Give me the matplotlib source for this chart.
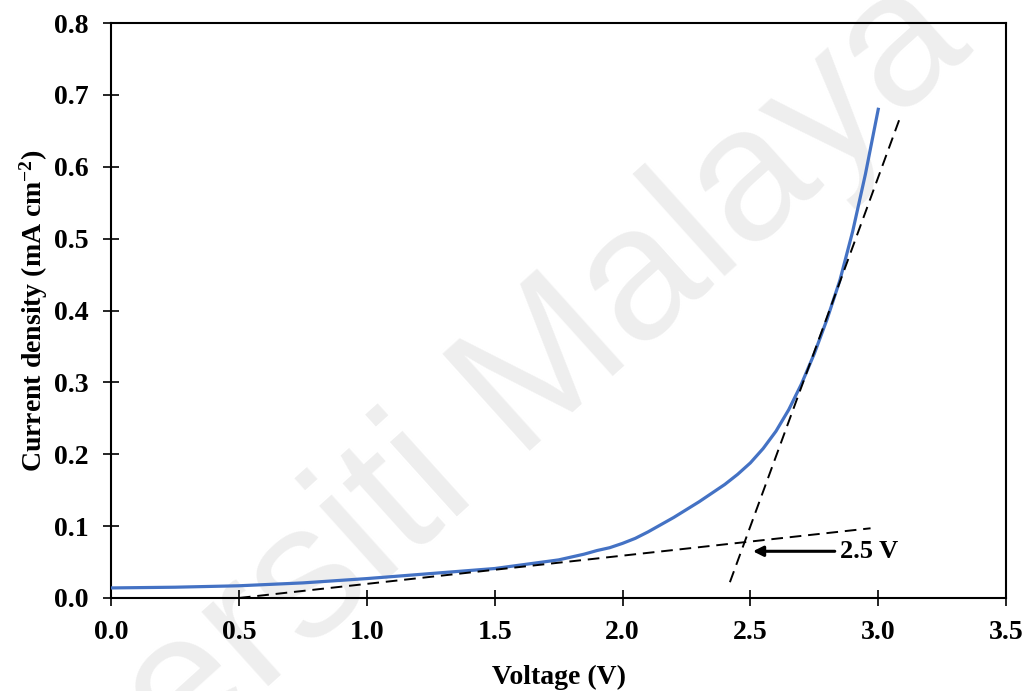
import numpy as np
import matplotlib
matplotlib.use("Agg")
import matplotlib.pyplot as plt

plt.rcParams['font.family'] = ['Liberation Serif', 'DejaVu Serif']
plt.rcParams['font.weight'] = 'bold'
plt.rcParams['mathtext.fontset'] = 'custom'
plt.rcParams['mathtext.rm'] = 'Liberation Serif:bold'
plt.rcParams['mathtext.bf'] = 'Liberation Serif:bold'
plt.rcParams['mathtext.default'] = 'rm'

# measured I-V curve
voltage = [0.0, 0.25, 0.5, 0.75, 1.0, 1.25, 1.5, 1.75, 1.85, 1.9, 1.95,
           2.0, 2.05, 2.1, 2.15, 2.2, 2.25, 2.3, 2.35, 2.4, 2.45, 2.5, 2.55,
           2.6, 2.65, 2.7, 2.75, 2.8, 2.85, 2.9, 2.95, 3.0]
current = [0.014, 0.015, 0.017, 0.021, 0.027, 0.034, 0.041, 0.053, 0.061,
           0.066, 0.070, 0.076, 0.083, 0.092, 0.102, 0.112, 0.123, 0.134,
           0.146, 0.158, 0.172, 0.188, 0.208, 0.232, 0.262, 0.298, 0.340,
           0.388, 0.442, 0.510, 0.590, 0.680]

# tangent lines used to find the onset voltage
low_fit_v = [0.5, 2.97]
low_fit_j = [0.0, 0.097]
high_fit_v = [2.42, 3.09]
high_fit_j = [0.022, 0.673]

onset_label = "2.5 V"
xticks = [0.0, 0.5, 1.0, 1.5, 2.0, 2.5, 3.0, 3.5]
yticks = [0.0, 0.1, 0.2, 0.3, 0.4, 0.5, 0.6, 0.7, 0.8]

fig = plt.figure(figsize=(10.30, 6.91), dpi=100)
ax = fig.add_axes([0.1078, 0.1346, 0.869, 0.832])
ax.set_zorder(1)
ax.set_facecolor('none')

# faint repository watermark behind everything
fig.text(0.424, 0.226, "Universiti Malaya", family='Liberation Sans',
         fontweight='normal', fontsize=137, color='#eeeeee', rotation=42,
         ha='center', va='baseline', rotation_mode='anchor', zorder=-1)

ax.plot(voltage, current, color='#4472C4', lw=2.3, zorder=3)
ax.plot(low_fit_v, low_fit_j, color='black', lw=1.4, dashes=(6, 3.5), zorder=4)
ax.plot(high_fit_v, high_fit_j, color='black', lw=1.4, dashes=(6, 3.5), zorder=4)

ax.annotate("", xy=(2.51, 0.065), xytext=(2.83, 0.065),
            arrowprops=dict(arrowstyle='-|>,head_length=0.6,head_width=0.3',
                            color='black', lw=2.2, shrinkA=0, shrinkB=0))
ax.text(2.85, 0.065, onset_label, fontsize=19, fontweight='bold',
        va='center', ha='left')

ax.set_xlim(0, 3.5)
ax.set_ylim(0, 0.8)
ax.set_xticks(xticks)
ax.set_yticks(yticks)
ax.set_xticklabels(["%.1f" % t for t in xticks])
ax.set_yticklabels(["%.1f" % t for t in yticks])
ax.tick_params(direction='inout', length=12, width=1.2, labelsize=20, pad=10)

for s in ax.spines.values():
    s.set_linewidth(1.5)

ax.set_xlabel("Voltage (V)", fontsize=20, fontweight='bold', labelpad=14)
ax.set_ylabel("Current density (mA cm$^{-2}$)", fontsize=20,
              fontweight='bold', labelpad=3)

fig.savefig("out.png", dpi=100)
plt.close()
